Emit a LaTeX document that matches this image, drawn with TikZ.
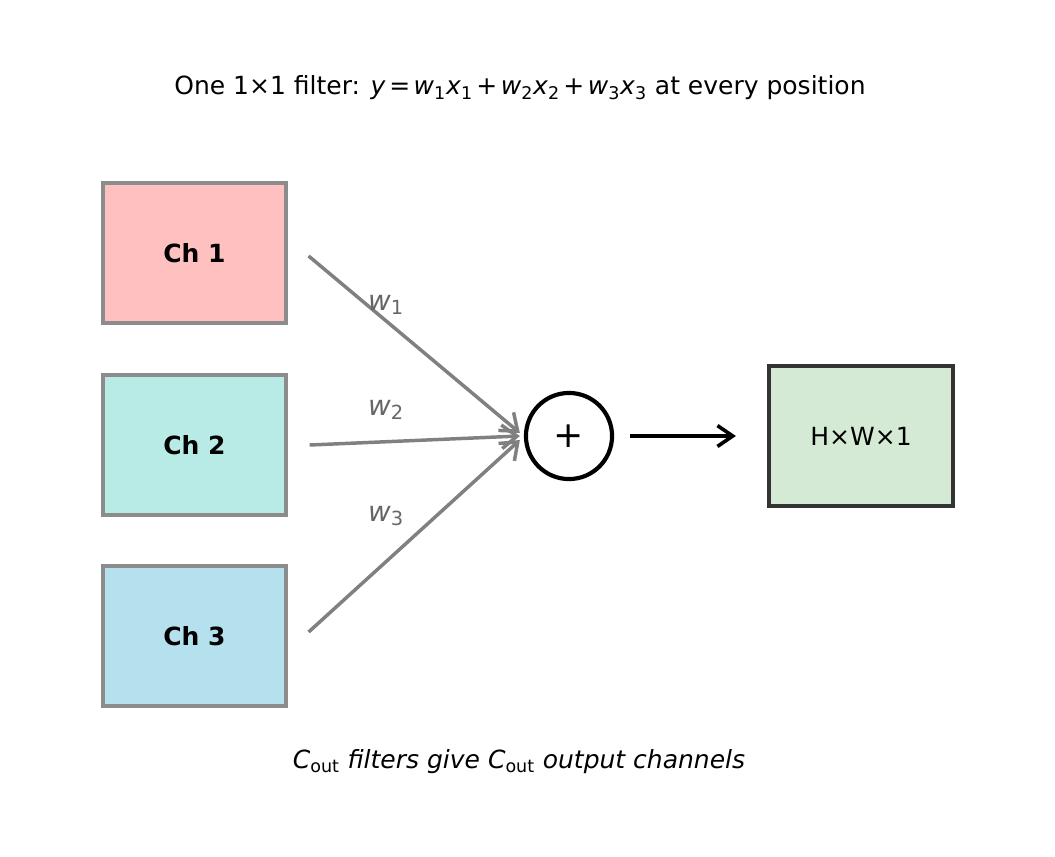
\documentclass[tikz,border=0pt]{standalone}
\usepackage{fontspec}
\setmainfont{DejaVu Sans}
\usetikzlibrary{arrows.meta}
\definecolor{chone}{RGB}{255,192,192}
\definecolor{chtwo}{RGB}{185,235,230}
\definecolor{chthree}{RGB}{180,225,237}
\definecolor{outgreen}{RGB}{212,234,212}
\newcommand{\wsub}[2]{\textit{#1}\textsubscript{#2}}
\newcommand{\ms}{\hspace{0.14em}}

\tikzset{
  chbox/.style={draw=gray!90, line width=2.3pt, minimum width=131.8pt, minimum height=100.8pt, font=\fontsize{18}{22}\selectfont\bfseries},
  wire/.style={draw=gray, line width=2.5pt, -{Straight Barb[length=11pt,width=17pt]}},
  wlabel/.style={text=black!60, font=\fontsize{20}{24}\selectfont},
  txt/.style={font=\fontsize{18}{22}\selectfont}
}

\begin{document}
\begin{tikzpicture}[x=0.72pt, y=-0.72pt]
\useasboundingbox (0,0) rectangle (1055,856);
\node[txt] (title) at (520,88) {One 1×1 filter: \textit{y}\ms=\ms\wsub{w}{1}\wsub{x}{1}\ms+\ms\wsub{w}{2}\wsub{x}{2}\ms+\ms\wsub{w}{3}\wsub{x}{3} at every position};
\node[chbox, fill=chone] (ch1) at (194.5,253) {Ch 1};
\node[chbox, fill=chtwo] (ch2) at (194.5,445) {Ch 2};
\node[chbox, fill=chthree] (ch3) at (194.5,636) {Ch 3};
\node[circle, draw, line width=3pt, minimum size=62pt, inner sep=0pt, font=\fontsize{26}{30}\selectfont] (sum) at (569,436) {+};
\node[txt, draw=black!80, fill=outgreen, line width=3pt, minimum width=132.5pt, minimum height=100.8pt] (out) at (861,436) {H×W×1};
% weighted inputs
\draw[wire] ([shift={(21,3)}]ch1.east) -- ([shift={(-4,-3)}]sum.west);
\draw[wire] ([shift={(22,0)}]ch2.east) -- ([shift={(-4,0)}]sum.west);
\draw[wire] ([shift={(21,-4)}]ch3.east) -- ([shift={(-4,4)}]sum.west);
\node[wlabel] (w1) at (386,305) {\wsub{w}{1}};
\node[wlabel] (w2) at (386,410) {\wsub{w}{2}};
\node[wlabel] (w3) at (386,516) {\wsub{w}{3}};
% output
\draw[line width=2.6pt, -{Straight Barb[length=11pt,width=15pt]}] ([xshift=11.5pt]sum.east) -- ([xshift=-22.3pt]out.west);
\node[txt, font=\fontsize{18}{22}\selectfont\itshape] (note) at (519,762) {\textit{C}\textsubscript{\upshape out} filters give \textit{C}\textsubscript{\upshape out} output channels};
\end{tikzpicture}
\end{document}
